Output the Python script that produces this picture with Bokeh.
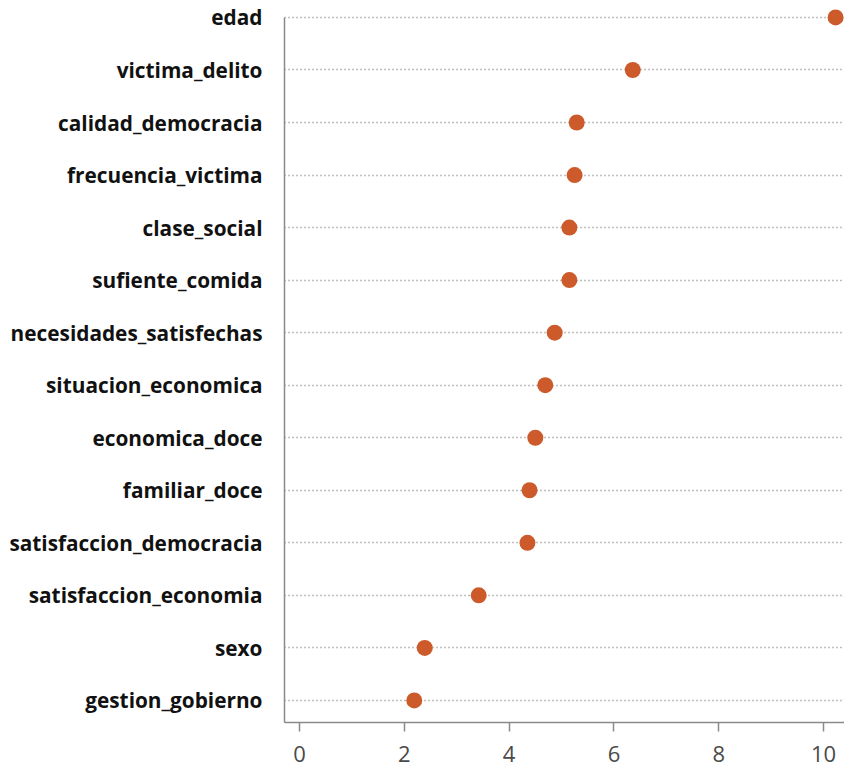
from bokeh.plotting import figure
from bokeh.models import Range1d, FixedTicker
from bokeh.embed import file_html
from bokeh.resources import INLINE

# Data (top to bottom as shown)
variables = [
    "edad", "victima_delito", "calidad_democracia", "frecuencia_victima",
    "clase_social", "sufiente_comida", "necesidades_satisfechas",
    "situacion_economica", "economica_doce", "familiar_doce",
    "satisfaccion_democracia", "satisfaccion_economia", "sexo",
    "gestion_gobierno",
]
importance = [10.23, 6.36, 5.29, 5.25, 5.15, 5.15, 4.87, 4.69, 4.50, 4.39,
              4.35, 3.42, 2.39, 2.19]
x_ticks = [0, 2, 4, 6, 8, 10]

n = len(variables)
ypos = [n - 1 - i for i in range(n)]

p = figure(width=844, height=770, output_backend="svg", toolbar_location=None,
           x_range=Range1d(-0.286, 10.40), y_range=Range1d(-0.42, 13.17),
           min_border_left=284, min_border_right=0, min_border_top=8,
           min_border_bottom=48)
p.outline_line_color = None
p.background_fill_color = "white"
p.border_fill_color = "white"

p.xgrid.grid_line_color = None
p.ygrid.ticker = FixedTicker(ticks=ypos)
p.ygrid.grid_line_color = "#808080"
p.ygrid.grid_line_dash = "1 3"
p.ygrid.grid_line_width = 1.5

p.yaxis.ticker = FixedTicker(ticks=ypos)
p.yaxis.major_label_overrides = {y: v for y, v in zip(ypos, variables)}
p.yaxis.bounds = (-0.42, n - 1)
p.yaxis.major_tick_out = 0
p.yaxis.major_tick_in = 0
p.yaxis.minor_tick_out = 0
p.yaxis.minor_tick_in = 0
p.yaxis.major_label_standoff = 22
p.yaxis.major_label_text_font = "Open Sans"
p.yaxis.major_label_text_font_style = "bold"
p.yaxis.major_label_text_font_size = "20.8px"
p.yaxis.major_label_text_color = "#111111"
p.yaxis.axis_line_color = "#8a8a8a"
p.yaxis.axis_line_width = 1.5

p.xaxis.ticker = FixedTicker(ticks=x_ticks)
p.xaxis.major_tick_out = 9
p.xaxis.major_tick_in = 0
p.xaxis.minor_tick_out = 0
p.xaxis.minor_tick_in = 0
p.xaxis.major_tick_line_color = "#8a8a8a"
p.xaxis.major_tick_line_width = 1.5
p.xaxis.axis_line_color = "#8a8a8a"
p.xaxis.axis_line_width = 1.5
p.xaxis.major_label_standoff = 14
p.xaxis.major_label_text_font = "Open Sans"
p.xaxis.major_label_text_font_size = "22px"
p.xaxis.major_label_text_color = "#4a4a4a"

p.scatter(x=importance, y=ypos, size=16, fill_color="#cc5a2a",
          line_color="#cc5a2a", line_width=0)

open("out.html", "w").write(file_html(p, INLINE))
